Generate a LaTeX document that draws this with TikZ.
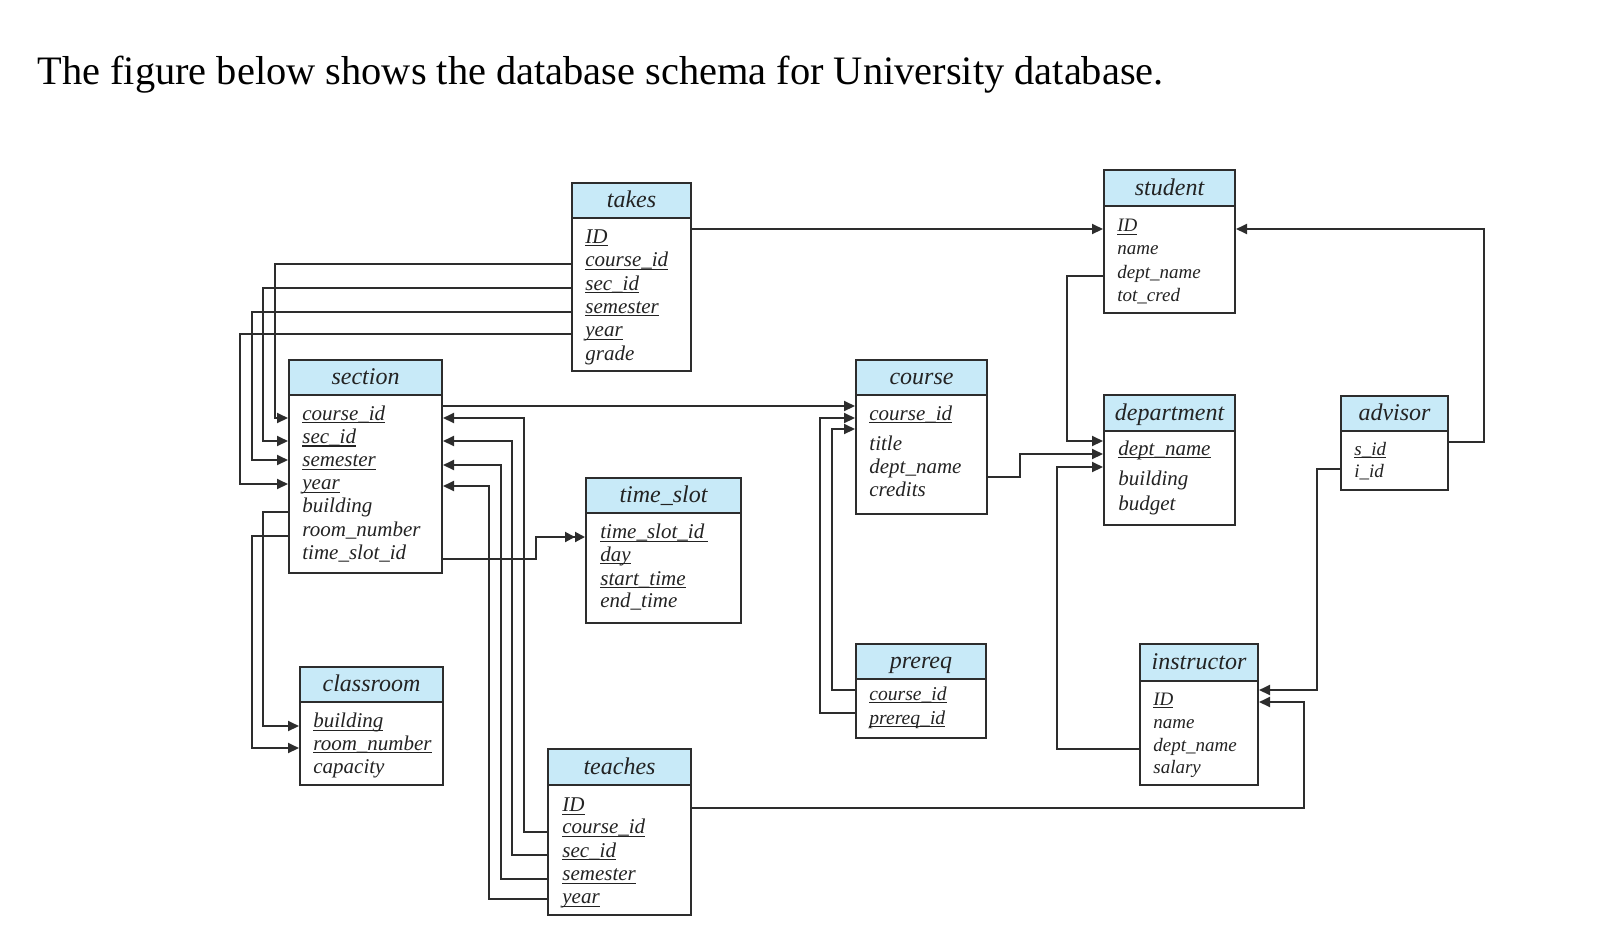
\documentclass[tikz,border=0pt]{standalone}
\usepackage{fontspec}
\setmainfont{Liberation Serif}
\usetikzlibrary{arrows.meta}
\definecolor{hdrblue}{RGB}{200,234,248}
\definecolor{lnc}{RGB}{45,45,45}
\definecolor{txc}{RGB}{35,35,35}
\newlength\ukw
\newcommand\uk[1]{\settowidth{\ukw}{#1}\rlap{\rule[-1.6pt]{\ukw}{0.55pt}}#1}
% #1 name, #2 x left, #3 y top, #4 x right, #5 y header bottom, #6 y bottom, #7 title
\newcommand\dbtable[7]{%
  \node[hdr, anchor=north west, minimum width={(#4-#2)*0.5pt}, minimum height={(#5-#3)*0.5pt}] (#1h) at (#2,#3) {#7};
  \node[tbody, anchor=north west, minimum width={(#4-#2)*0.5pt}, minimum height={(#6-#5)*0.5pt}] (#1) at (#2,#5) {};
}
\begin{document}
\begin{tikzpicture}[x=0.5pt,y=-0.5pt,
  hdr/.style={draw=lnc, line width=1pt, fill=hdrblue, inner sep=0pt, text height=7pt, text depth=0pt, font=\fontsize{12}{14}\selectfont\itshape, text=txc},
  tbody/.style={draw=lnc, line width=1pt, fill=white, inner sep=0pt},
  rw/.style={anchor=base west, inner sep=0pt, text=txc, font=\fontsize{10.5}{12}\selectfont\itshape},
  rws/.style={anchor=base west, inner sep=0pt, text=txc, font=\fontsize{9.5}{11}\selectfont\itshape},
  rwp/.style={anchor=base west, inner sep=0pt, text=txc, font=\fontsize{9.8}{11}\selectfont\itshape},
  conn/.style={draw=lnc, line width=1pt},
  arr/.style={conn, -{Triangle[length=5.5pt,width=5pt]}},
  darr/.style={conn, -{Triangle[length=5pt,width=5pt,sep=0pt]Triangle[length=5pt,width=5pt]}}
]
\useasboundingbox (0,0) rectangle (1600,943);

\node[anchor=base west, inner sep=0pt, font=\fontsize{20.2}{24}\selectfont] (title) at (37,84)
  {The figure below shows the database schema for University database.};

% tables
\dbtable{takes}{571}{182}{690}{217}{370}{takes}
\dbtable{student}{1103}{169}{1234}{205}{312}{student}
\dbtable{section}{288}{359}{441}{394}{572}{section}
\dbtable{course}{855}{359}{986}{394}{513}{course}
\dbtable{department}{1103}{394}{1234}{430}{524}{department}
\dbtable{advisor}{1340}{395}{1447}{430}{489}{advisor}
\dbtable{timeslot}{585}{477}{740}{512}{622}{time\_slot}
\dbtable{classroom}{299}{666}{442}{701}{784}{classroom}
\dbtable{teaches}{547}{748}{690}{784}{914}{teaches}
\dbtable{prereq}{855}{643}{985}{678}{737}{prereq}
\dbtable{instructor}{1139}{643}{1257}{680}{784}{instructor}

% rows: takes
\node[rw] (takes-1) at (585,243) {\uk{ID}};
\node[rw] (takes-2) at (585,266.5) {\uk{course\_id}};
\node[rw] (takes-3) at (585,290) {\uk{sec\_id}};
\node[rw] (takes-4) at (585,313) {\uk{semester}};
\node[rw] (takes-5) at (585,336.5) {\uk{year}};
\node[rw] (takes-6) at (585,360) {grade};
% student
\node[rws] (student-1) at (1117,231.5) {\uk{ID}};
\node[rws] (student-2) at (1117,254.5) {name};
\node[rws] (student-3) at (1117,278) {dept\_name};
\node[rws] (student-4) at (1117,301.5) {tot\_cred};
% section
\node[rw] (section-1) at (302,420) {\uk{course\_id}};
\node[rw] (section-2) at (302,443.3) {\uk{sec\_id}};
\node[rw] (section-3) at (302,466.5) {\uk{semester}};
\node[rw] (section-4) at (302,489.7) {\uk{year}};
\node[rw] (section-5) at (302,512.8) {building};
\node[rw] (section-6) at (302,536) {room\_number};
\node[rw] (section-7) at (302,559) {time\_slot\_id};
% course
\node[rw] (course-1) at (869,420) {\uk{course\_id}};
\node[rw] (course-2) at (869,450) {title};
\node[rw] (course-3) at (869,473) {dept\_name};
\node[rw] (course-4) at (869,496) {credits};
% department
\node[rw] (department-1) at (1118,455) {\uk{dept\_name}};
\node[rw] (department-2) at (1118,485.5) {building};
\node[rw] (department-3) at (1118,510) {budget};
% advisor
\node[rws] (advisor-1) at (1354,455) {\uk{s\_id}};
\node[rws] (advisor-2) at (1354,477) {i\_id};
% time_slot
\node[rw] (timeslot-1) at (600,538.5) {\uk{time\_slot\_id\,}};
\node[rw] (timeslot-2) at (600,561) {\uk{day}};
\node[rw] (timeslot-3) at (600,585) {\uk{start\_time}};
\node[rw] (timeslot-4) at (600,607) {end\_time};
% classroom
\node[rw] (classroom-1) at (313,727.5) {\uk{building}};
\node[rw] (classroom-2) at (313,750) {\uk{room\_number}};
\node[rw] (classroom-3) at (313,773.5) {capacity};
% teaches
\node[rw] (teaches-1) at (562,811.5) {\uk{ID}};
\node[rw] (teaches-2) at (562,833.5) {\uk{course\_id}};
\node[rw] (teaches-3) at (562,857) {\uk{sec\_id}};
\node[rw] (teaches-4) at (562,880.5) {\uk{semester}};
\node[rw] (teaches-5) at (562,903.5) {\uk{year}};
% prereq
\node[rwp] (prereq-1) at (869,700) {\uk{course\_id}};
\node[rwp] (prereq-2) at (869,724) {\uk{prereq\_id}};
% instructor
\node[rws] (instructor-1) at (1153,705) {\uk{ID}};
\node[rws] (instructor-2) at (1153,728.5) {name};
\node[rws] (instructor-3) at (1153,751) {dept\_name};
\node[rws] (instructor-4) at (1153,773.5) {salary};

% connectors
\draw[arr] (takes.east |- 0,229) -- (student.west |- 0,229);
\draw[arr] (takes.west |- 0,264) -- (275,264) |- (section.west |- 0,418);
\draw[arr] (takes.west |- 0,288) -- (263,288) |- (section.west |- 0,441);
\draw[arr] (takes.west |- 0,312) -- (252,312) |- (section.west |- 0,460);
\draw[arr] (takes.west |- 0,334) -- (240,334) |- (section.west |- 0,484);

\draw[arr] (section.west |- 0,512) -- (263,512) |- (classroom.west |- 0,726);
\draw[arr] (section.west |- 0,536) -- (252,536) |- (classroom.west |- 0,748);

\draw[arr] (section.east |- 0,406) -- (course.west |- 0,406);
\draw[darr] (section.east |- 0,559) -- (536,559) |- (timeslot.west |- 0,537);

\draw[arr] (teaches.west |- 0,832) -- (524,832) |- (section.east |- 0,418);
\draw[arr] (teaches.west |- 0,855) -- (512,855) |- (section.east |- 0,441);
\draw[arr] (teaches.west |- 0,879) -- (501,879) |- (section.east |- 0,465);
\draw[arr] (teaches.west |- 0,899) -- (489,899) |- (section.east |- 0,486);
\draw[arr] (teaches.east |- 0,808) -- (1304,808) |- (instructor.east |- 0,702);

\draw[arr] (prereq.west |- 0,690) -- (832,690) |- (course.west |- 0,429);
\draw[arr] (prereq.west |- 0,713) -- (820,713) |- (course.west |- 0,418);

\draw[arr] (course.east |- 0,477) -- (1020,477) |- (department.west |- 0,454);
\draw[arr] (student.west |- 0,276) -- (1067,276) |- (department.west |- 0,441);
\draw[arr] (instructor.west |- 0,749) -- (1057,749) |- (department.west |- 0,467);

\draw[arr] (advisor.east |- 0,442) -- (1484,442) |- (student.east |- 0,229);
\draw[arr] (advisor.west |- 0,469) -- (1317,469) |- (instructor.east |- 0,690);
\end{tikzpicture}
\end{document}
